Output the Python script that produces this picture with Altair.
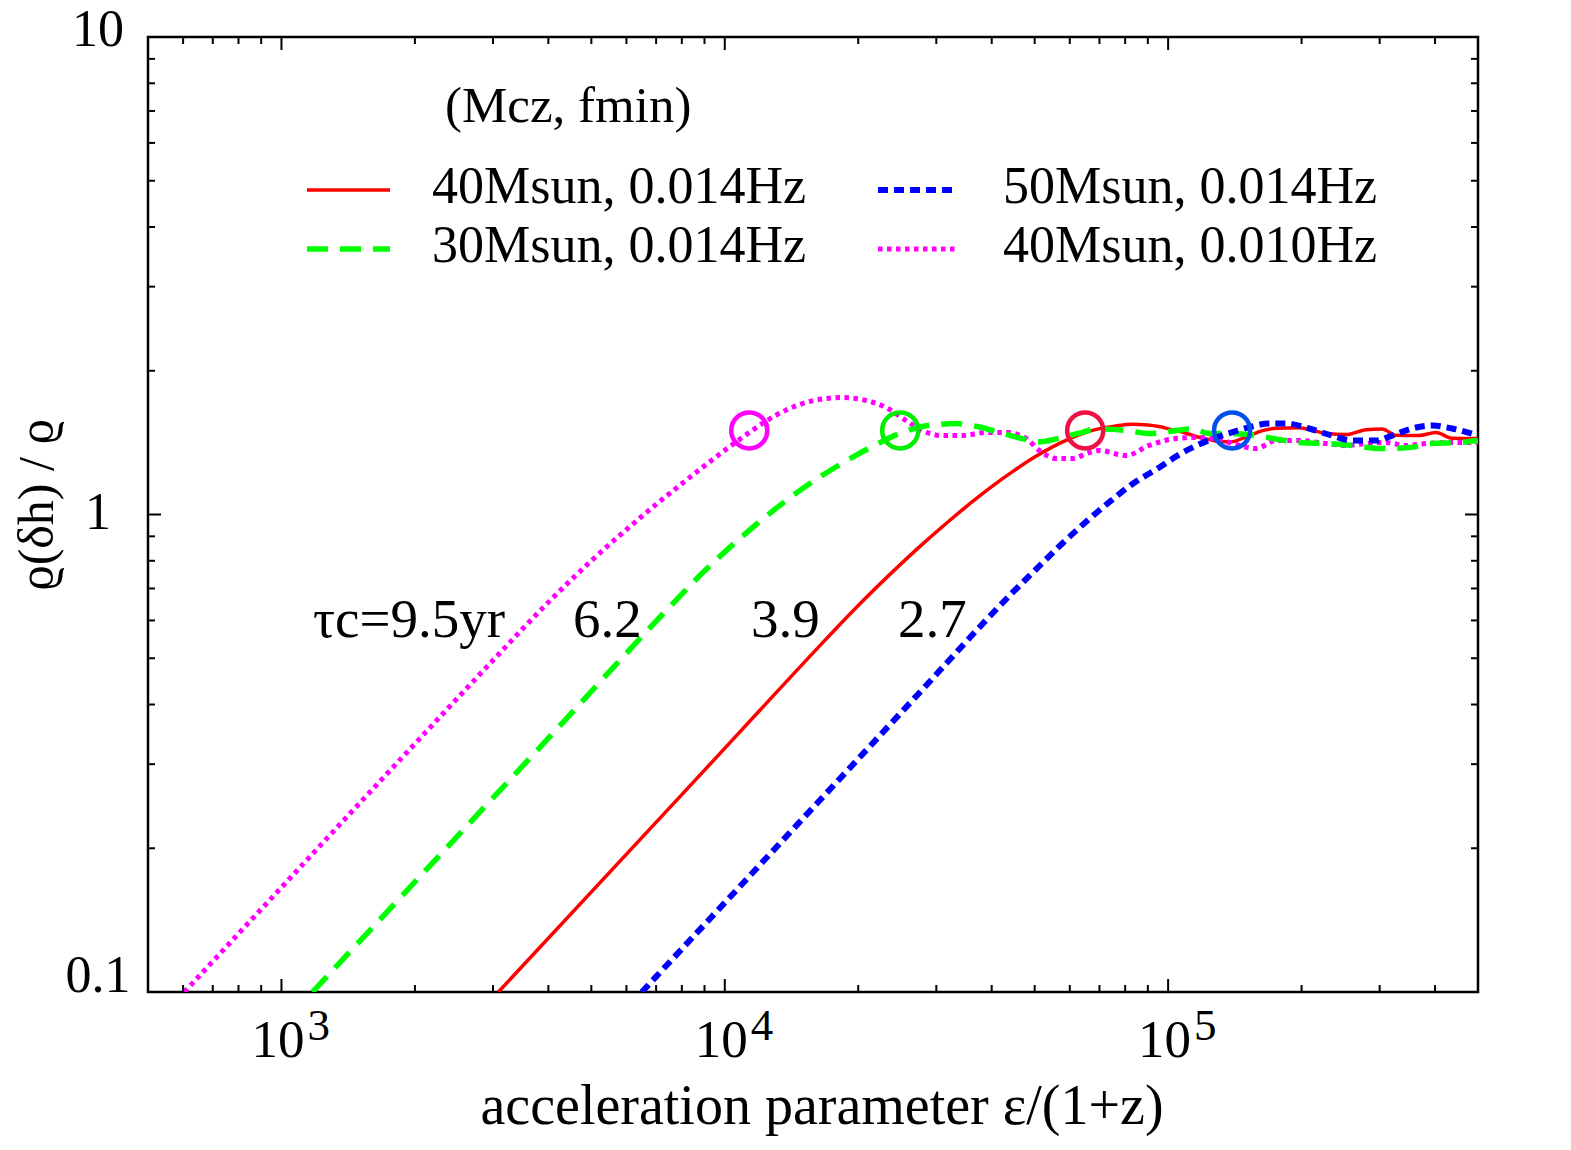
import altair as alt
import pandas as pd

# ---- curves: rho(delta h)/rho versus acceleration parameter eps/(1+z) ----
red_eps = [3085, 8000, 12000, 16250, 20000, 24000, 28000, 32000, 36000, 40000,
           45000, 50000, 55000, 60000, 65000, 70000, 76000, 83000, 90000, 95430,
           102000, 109800, 116000, 123700, 131000, 139400, 146000, 154700, 164000,
           175200, 197400, 212000, 227100, 252000, 279600, 303800, 326700, 368100,
           402100, 436900, 500000]
red_rho = [0.1, 0.259, 0.389, 0.527, 0.645, 0.761, 0.869, 0.968, 1.06, 1.144,
           1.237, 1.319, 1.387, 1.442, 1.484, 1.513, 1.532, 1.545, 1.54, 1.528,
           1.505, 1.48, 1.455, 1.435, 1.42, 1.42, 1.44, 1.47, 1.50,
           1.515, 1.52, 1.50, 1.478, 1.47, 1.505, 1.51, 1.465, 1.463,
           1.485, 1.445, 1.443]

green_eps = [1175, 2000, 4000, 8000, 9000, 10000, 11000, 12000, 13000, 14000,
             16080, 18000, 20110, 22300, 24360, 26480, 29380, 33270, 37490, 41590,
             47840, 51190, 55930, 63000, 68830, 80410, 90610, 104240, 113260, 123700,
             139400, 157900, 177900, 197400, 227100, 260000, 303800, 349500, 393800,
             453200, 500000]
green_rho = [0.1, 0.17, 0.34, 0.681, 0.762, 0.835, 0.903, 0.967, 1.027, 1.083,
             1.185, 1.265, 1.342, 1.412, 1.468, 1.51, 1.54, 1.55, 1.525, 1.485,
             1.435, 1.42, 1.44, 1.48, 1.51, 1.50, 1.478, 1.499, 1.514, 1.478,
             1.478, 1.463, 1.436, 1.415, 1.408, 1.395, 1.374, 1.381, 1.408,
             1.415, 1.429]

blue_eps = [6500, 16250, 26880, 44490, 50000, 57000, 65000, 74000, 84000, 95000,
            106000, 118000, 130000, 142000, 155000, 168000, 184500, 208000, 234400,
            260000, 294400, 320000, 354900, 393800, 436900, 500000]
blue_rho = [0.1, 0.25, 0.414, 0.685, 0.763, 0.86, 0.962, 1.065, 1.167, 1.25,
            1.336, 1.405, 1.456, 1.495, 1.53, 1.55, 1.551, 1.514, 1.463,
            1.429, 1.429, 1.463, 1.514, 1.536, 1.514, 1.463]

magenta_eps = [604, 1000, 2000, 3000, 4000, 5000, 6000, 7000, 8000, 9000,
               10235, 11357, 12408, 13763, 15754, 18403, 20849, 23129, 25660, 27884,
               30934, 34310, 38865, 43115, 47838, 51190, 55930, 60750, 66370, 69900,
               80410, 90610, 104240, 117480, 132410, 144610, 157900, 175200, 197400,
               227100, 252000, 279600, 310100, 344200, 381700, 436900, 500000]
magenta_rho = [0.1, 0.1656, 0.331, 0.495, 0.655, 0.80, 0.93, 1.05, 1.16, 1.265,
               1.385, 1.485, 1.57, 1.655, 1.73, 1.758, 1.733, 1.675, 1.573, 1.499,
               1.463, 1.463, 1.485, 1.485, 1.443, 1.362, 1.31, 1.31, 1.348, 1.362,
               1.329, 1.395, 1.443, 1.45, 1.429, 1.395, 1.374, 1.429, 1.429,
               1.408, 1.395, 1.408, 1.415, 1.395, 1.408, 1.415, 1.415]

# open circles marking where each curve reaches its plateau
circle_eps = [11357, 24870, 65000, 139400]
circle_rho = [1.5, 1.5, 1.5, 1.5]
circle_colors = ["#ff00ff", "#00ee00", "#ee1144", "#0050ee"]

# chirp-time labels
tau_labels = ["τc=9.5yr", "6.2", "3.9", "2.7"]

# legend entries
legend_names = ["40Msun, 0.014Hz", "30Msun, 0.014Hz", "50Msun, 0.014Hz", "40Msun, 0.010Hz"]

# axis ticks
x_major = [1000, 10000, 100000]
x_exponents = ["3", "4", "5"]
x_minor = [600, 700, 800, 900,
           2000, 3000, 4000, 5000, 6000, 7000, 8000, 9000,
           20000, 30000, 40000, 50000, 60000, 70000, 80000, 90000,
           200000, 300000, 400000]
y_major = [1]
y_minor = [0.2, 0.3, 0.4, 0.5, 0.6, 0.7, 0.8, 0.9, 2, 3, 4, 5, 6, 7, 8, 9]
y_label_values = [10, 1, 0.1]
y_label_texts = ["10", "1", "0.1"]

W, H = 1330, 955
FONT = "Liberation Serif"
xs = alt.Scale(type="log", domain=[500, 500000], nice=False)
ys = alt.Scale(type="log", domain=[0.1, 10], nice=False)


def curve(eps, rho, color, width, dash=None):
    df = pd.DataFrame({"eps": eps, "rho": rho})
    kw = dict(color=color, strokeWidth=width, clip=True, interpolate="monotone")
    if dash:
        kw["strokeDash"] = dash
    return alt.Chart(df).mark_line(**kw).encode(
        x=alt.X("eps:Q", scale=xs, axis=None),
        y=alt.Y("rho:Q", scale=ys, axis=None),
    )


styles = {
    "red": ("#ff0000", 3.5, None),
    "green": ("#00ff00", 5.5, [21, 12]),
    "blue": ("#0000ff", 6, [10, 6]),
    "magenta": ("#ff00ff", 5, [4.5, 4.5]),
}

layers = [
    curve(red_eps, red_rho, *styles["red"]),
    curve(magenta_eps, magenta_rho, *styles["magenta"]),
    curve(green_eps, green_rho, *styles["green"]),
    curve(blue_eps, blue_rho, *styles["blue"]),
]

circles = alt.Chart(pd.DataFrame({"eps": circle_eps, "rho": circle_rho, "c": circle_colors})).mark_point(
    shape="circle", filled=False, size=1300, strokeWidth=4.5, opacity=1
).encode(
    x=alt.X("eps:Q", scale=xs, axis=None),
    y=alt.Y("rho:Q", scale=ys, axis=None),
    color=alt.Color("c:N", scale=None),
)
layers.append(circles)


# inward ticks on all four sides
def xticks(vals, length):
    df = pd.DataFrame({"v": vals})
    base = alt.Chart(df).mark_rule(color="black", strokeWidth=2)
    bottom = base.encode(x=alt.X("v:Q", scale=xs, axis=None), y=alt.value(H), y2=alt.value(H - length))
    top = base.encode(x=alt.X("v:Q", scale=xs, axis=None), y=alt.value(0), y2=alt.value(length))
    return [bottom, top]


def yticks(vals, length):
    df = pd.DataFrame({"v": vals})
    base = alt.Chart(df).mark_rule(color="black", strokeWidth=2)
    left = base.encode(y=alt.Y("v:Q", scale=ys, axis=None), x=alt.value(0), x2=alt.value(length))
    right = base.encode(y=alt.Y("v:Q", scale=ys, axis=None), x=alt.value(W), x2=alt.value(W - length))
    return [left, right]


layers += xticks(x_major, 13) + xticks(x_minor, 7) + yticks(y_major, 13) + yticks(y_minor, 7)

# x tick labels: "10" with a raised exponent
xl = pd.DataFrame({"v": x_major, "e": x_exponents, "b": ["10"] * 3})
layers.append(alt.Chart(xl).mark_text(font=FONT, fontSize=53, align="right", baseline="alphabetic",
                                      dx=23, color="black").encode(
    x=alt.X("v:Q", scale=xs, axis=None), y=alt.value(H + 65), text="b:N"))
layers.append(alt.Chart(xl).mark_text(font=FONT, fontSize=45, align="left", baseline="alphabetic",
                                      dx=26, color="black").encode(
    x=alt.X("v:Q", scale=xs, axis=None), y=alt.value(H + 48), text="e:N"))

# y tick labels
for val, txt, off in zip(y_label_values, y_label_texts, [-7, -2, -16]):
    layers.append(alt.Chart(pd.DataFrame({"v": [val], "t": [txt]})).mark_text(
        font=FONT, fontSize=52, align="center", baseline="middle", dy=off, color="black"
    ).encode(y=alt.Y("v:Q", scale=ys, axis=None), x=alt.value(-50), text="t:N"))

# axis titles
layers.append(alt.Chart(pd.DataFrame({"t": ["acceleration parameter ε/(1+z)"]})).mark_text(
    font=FONT, fontSize=56, align="center", baseline="middle", color="black"
).encode(x=alt.value(674), y=alt.value(H + 115), text="t:N"))
layers.append(alt.Chart(pd.DataFrame({"t": ["ϱ(δh) / ϱ"]})).mark_text(
    font=FONT, fontSize=50, align="center", baseline="middle", angle=270, color="black"
).encode(x=alt.value(-110), y=alt.value(468), text="t:N"))

# chirp-time annotations
for txt, xpos in zip(tau_labels, [165, 425, 603, 750]):
    layers.append(alt.Chart(pd.DataFrame({"t": [txt]})).mark_text(
        font=FONT, fontSize=55, align="left", baseline="middle", color="black"
    ).encode(x=alt.value(xpos), y=alt.value(583), text="t:N"))

# legend drawn inside the frame
layers.append(alt.Chart(pd.DataFrame({"t": ["(Mcz, fmin)"]})).mark_text(
    font=FONT, fontSize=51, align="left", baseline="middle", color="black"
).encode(x=alt.value(297), y=alt.value(70), text="t:N"))

legend_pos = [  # symbol start, symbol end, label start, row y
    (159, 242, 284, 150),
    (159, 242, 284, 209),
    (730, 810, 855, 150),
    (730, 810, 855, 209),
]
legend_styles = [styles["red"], styles["green"], styles["blue"], styles["magenta"]]
for name, (x1, x2, xt, yy), (col, sw, dash) in zip(legend_names, legend_pos, legend_styles):
    df = pd.DataFrame({"t": [name]})
    kw = dict(color=col, strokeWidth=sw)
    if dash:
        kw["strokeDash"] = dash
    layers.append(alt.Chart(df).mark_rule(**kw).encode(
        x=alt.value(x1), x2=alt.value(x2), y=alt.value(yy + 3)))
    layers.append(alt.Chart(df).mark_text(
        font=FONT, fontSize=52, align="left", baseline="middle", color="black"
    ).encode(x=alt.value(xt), y=alt.value(yy), text="t:N"))

chart = alt.layer(*layers).properties(
    width=W, height=H,
    autosize=alt.AutoSizeParams(type="none"),
    padding={"left": 148, "top": 37, "right": 93, "bottom": 158},
    background="white",
).configure_view(stroke="black", strokeWidth=2.5)

chart.save("out.html", embed_options={"renderer": "svg", "actions": False})
